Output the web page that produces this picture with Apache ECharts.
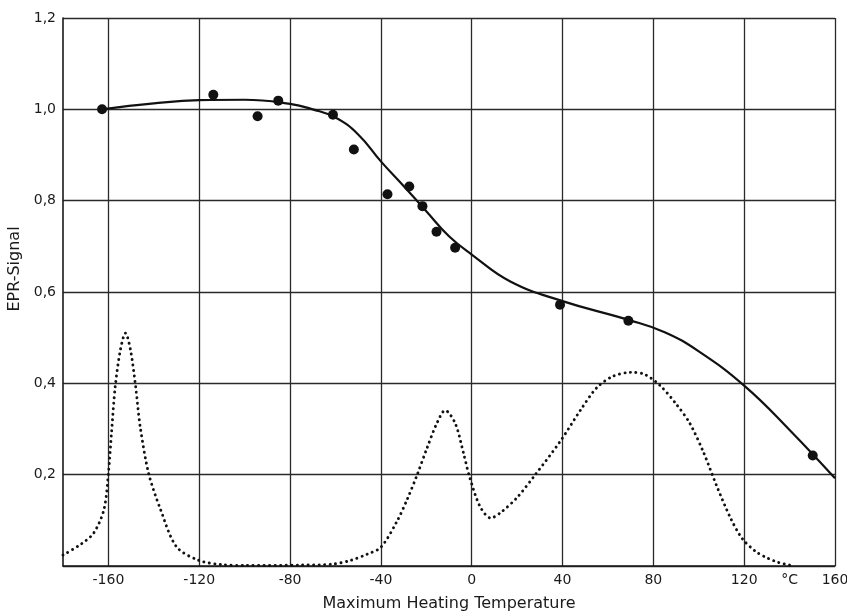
<!DOCTYPE html>
<html>
<head>
<meta charset="utf-8">
<script src="https://cdn.jsdelivr.net/npm/echarts@6/dist/echarts.min.js"></script>
<style>html,body{margin:0;padding:0;background:#fff;}#c{width:847px;height:614px;}</style>
</head>
<body>
<div id="c"></div>
<script>
// Measured EPR signal (data points)
var pointX = [-162.8, -113.8, -94.3, -85.2, -61.1, -51.9, -37.1, -27.5, -21.7, -15.5, -7.3, 38.9, 69, 150.2];
var pointY = [1.0, 1.032, 0.985, 1.019, 0.988, 0.912, 0.814, 0.831, 0.788, 0.732, 0.697, 0.572, 0.537, 0.242];

// Fitted (solid) curve
var fitX = [-163, -140, -120, -100, -80, -70, -60, -50, -40, -30, -20, -10, 0, 17, 40, 69, 85, 100, 120, 140, 160];
var fitY = [1.0, 1.013, 1.02, 1.021, 1.012, 1.0, 0.982, 0.945, 0.886, 0.832, 0.777, 0.722, 0.682, 0.623, 0.58, 0.539, 0.512, 0.47, 0.395, 0.298, 0.192];

// Dotted curve
var dotX = [-180, -172, -166.5, -162, -160, -158.7, -157, -154.7, -152.5, -150.3, -148, -146, -142.3, -137, -130, -120, -110, -100, -75, -61.5, -53.5, -46, -40, -33, -28.5, -24, -19.7, -15.3, -11.7, -7.3, -3.6, -1, 3.7, 8.4, 13, 20, 28, 39, 48, 55, 62, 70, 76, 83, 90, 96, 102, 108, 114, 119, 125, 130, 135, 140];
var dotY = [0.024, 0.048, 0.072, 0.123, 0.203, 0.287, 0.393, 0.474, 0.51, 0.474, 0.393, 0.305, 0.203, 0.123, 0.042, 0.012, 0.003, 0.001, 0.002, 0.004, 0.012, 0.026, 0.041, 0.097, 0.145, 0.2, 0.258, 0.313, 0.341, 0.313, 0.247, 0.196, 0.13, 0.105, 0.118, 0.15, 0.2, 0.273, 0.342, 0.39, 0.415, 0.424, 0.42, 0.395, 0.355, 0.313, 0.25, 0.174, 0.105, 0.061, 0.032, 0.018, 0.008, 0.002];

// Axis ticks / labels
var xGridValues = [-160, -120, -80, -40, 0, 40, 80, 120, 160];
var xLabelValues = [-160, -120, -80, -40, 0, 40, 80, 120, 140, 160];
var unitLabelValue = 140;
var unitLabel = '°C';
var xTitle = 'Maximum Heating Temperature';
var yTitle = 'EPR-Signal';

function zip(a, b) { return a.map(function (v, i) { return [v, b[i]]; }); }

var chart = echarts.init(document.getElementById('c'), null, { renderer: 'canvas' });
var ink = '#1a1a1a';
var font = 'DejaVu Sans';
chart.setOption({
  animation: false,
  backgroundColor: '#fff',
  grid: { left: 63, right: 12, top: 18, bottom: 48, outerBoundsMode: 'none' },
  xAxis: {
    type: 'value', min: -180, max: 160,
    name: xTitle, nameLocation: 'middle', nameGap: 30,
    nameTextStyle: { fontFamily: font, fontSize: 16, color: ink },
    axisLine: { show: true, onZero: false, lineStyle: { color: ink, width: 1.6 } },
    axisTick: { show: false, customValues: xGridValues },
    axisLabel: {
      customValues: xLabelValues, margin: 7, hideOverlap: false,
      fontFamily: font, fontSize: 14, color: ink,
      formatter: function (v) { return v === unitLabelValue ? unitLabel : String(v); }
    },
    splitLine: { show: true, lineStyle: { color: '#2a2a2a', width: 1.3 } }
  },
  yAxis: {
    type: 'value', min: 0, max: 1.2, interval: 0.2,
    name: yTitle, nameLocation: 'middle', nameGap: 36, nameRotate: 90,
    nameTextStyle: { fontFamily: font, fontSize: 16, color: ink, padding: [0, 0, 0, 46] },
    axisLine: { show: true, onZero: false, lineStyle: { color: ink, width: 1.6 } },
    axisTick: { show: false },
    axisLabel: {
      margin: 7, fontFamily: font, fontSize: 14, color: ink,
      formatter: function (v) { return v === 0 ? '' : v.toFixed(1).replace('.', ','); }
    },
    splitLine: { show: true, lineStyle: { color: '#2a2a2a', width: 1.3 } }
  },
  series: [
    {
      type: 'line', data: zip(dotX, dotY), smooth: 0.3,
      showSymbol: false, symbol: 'none',
      lineStyle: { color: '#111', width: 2.9, type: [0.1, 5.4], cap: 'round' },
      z: 3
    },
    {
      type: 'line', data: zip(fitX, fitY), smooth: 0.45,
      showSymbol: false, symbol: 'none',
      lineStyle: { color: '#111', width: 2.2 },
      z: 4
    },
    {
      type: 'scatter', data: zip(pointX, pointY), symbol: 'circle', symbolSize: 10,
      itemStyle: { color: '#111', opacity: 1 }, z: 5
    }
  ]
});
</script>
</body>
</html>
